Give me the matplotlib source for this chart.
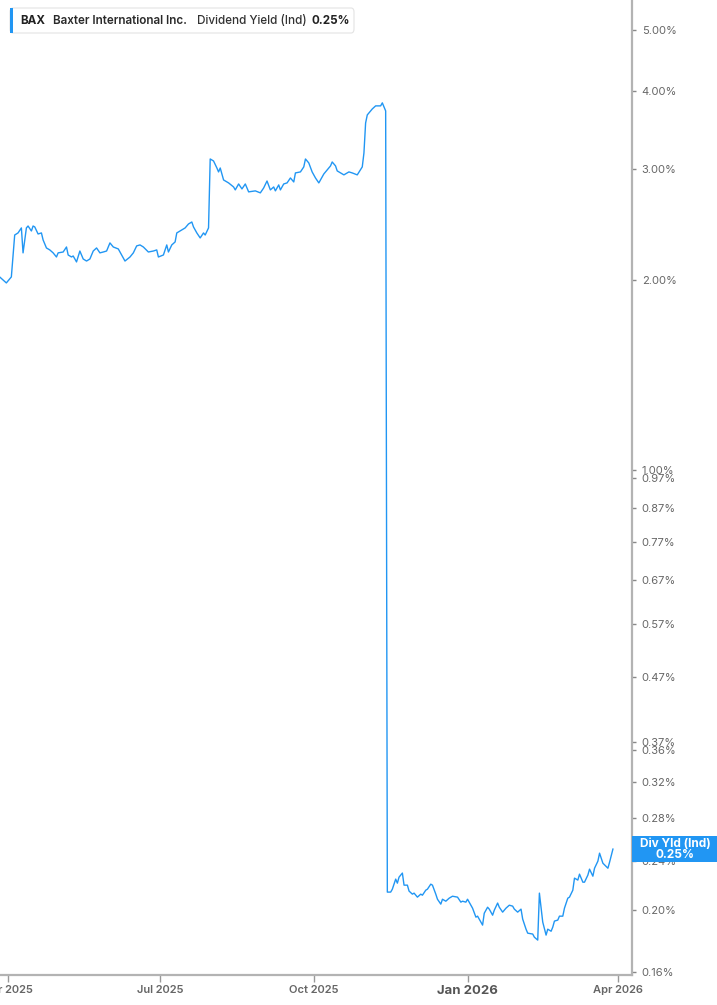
import matplotlib
matplotlib.use("Agg")
import matplotlib.pyplot as plt
import matplotlib.transforms as mtransforms
from matplotlib.patches import Rectangle, FancyBboxPatch
from matplotlib.ticker import FixedLocator, NullLocator
import pandas as pd

plt.rcParams["font.family"] = ["Inter", "DejaVu Sans"]

# ---- data ----
dates = [
    "2025-03-27", "2025-03-31", "2025-04-03", "2025-04-05", "2025-04-07", "2025-04-09",
    "2025-04-10", "2025-04-12", "2025-04-13", "2025-04-15", "2025-04-16", "2025-04-17",
    "2025-04-19", "2025-04-21", "2025-04-22", "2025-04-24", "2025-04-26", "2025-04-28",
    "2025-04-30", "2025-05-01", "2025-05-04", "2025-05-06", "2025-05-07", "2025-05-09",
    "2025-05-10", "2025-05-12", "2025-05-14", "2025-05-16", "2025-05-18", "2025-05-20",
    "2025-05-22", "2025-05-24", "2025-05-26", "2025-05-28", "2025-05-30", "2025-06-01",
    "2025-06-03", "2025-06-06", "2025-06-08", "2025-06-10", "2025-06-13", "2025-06-15",
    "2025-06-17", "2025-06-19", "2025-06-21", "2025-06-24", "2025-06-27", "2025-06-29",
    "2025-06-30", "2025-07-03", "2025-07-05", "2025-07-06", "2025-07-08", "2025-07-10",
    "2025-07-11", "2025-07-14", "2025-07-16", "2025-07-18", "2025-07-20", "2025-07-21",
    "2025-07-23", "2025-07-25", "2025-07-27", "2025-07-28", "2025-07-30", "2025-07-31",
    "2025-08-02", "2025-08-04", "2025-08-05", "2025-08-06", "2025-08-08", "2025-08-10",
    "2025-08-11", "2025-08-14", "2025-08-15", "2025-08-17", "2025-08-19", "2025-08-21",
    "2025-08-23", "2025-08-27", "2025-08-30", "2025-09-01", "2025-09-03", "2025-09-05",
    "2025-09-07", "2025-09-08", "2025-09-10", "2025-09-11", "2025-09-13", "2025-09-15",
    "2025-09-17", "2025-09-19", "2025-09-20", "2025-09-23", "2025-09-25", "2025-09-26",
    "2025-09-28", "2025-09-30", "2025-10-02", "2025-10-04", "2025-10-07", "2025-10-09",
    "2025-10-11", "2025-10-12", "2025-10-14", "2025-10-15", "2025-10-17", "2025-10-19",
    "2025-10-22", "2025-10-24", "2025-10-27", "2025-10-30", "2025-10-31", "2025-11-01",
    "2025-11-02", "2025-11-05", "2025-11-07", "2025-11-10", "2025-11-11", "2025-11-13",
    "2025-11-14", "2025-11-16", "2025-11-17", "2025-11-19", "2025-11-20", "2025-11-21",
    "2025-11-23", "2025-11-24", "2025-11-26", "2025-11-27", "2025-11-29", "2025-11-30",
    "2025-12-02", "2025-12-04", "2025-12-05", "2025-12-07", "2025-12-08", "2025-12-10",
    "2025-12-11", "2025-12-13", "2025-12-14", "2025-12-16", "2025-12-17", "2025-12-19",
    "2025-12-21", "2025-12-23", "2025-12-26", "2025-12-28", "2025-12-29", "2025-12-31",
    "2026-01-01", "2026-01-04", "2026-01-06", "2026-01-07", "2026-01-08", "2026-01-10",
    "2026-01-11", "2026-01-13", "2026-01-14", "2026-01-16", "2026-01-17", "2026-01-19",
    "2026-01-20", "2026-01-22", "2026-01-24", "2026-01-26", "2026-01-28", "2026-01-29",
    "2026-01-31", "2026-02-02", "2026-02-03", "2026-02-05", "2026-02-06", "2026-02-09",
    "2026-02-10", "2026-02-12", "2026-02-13", "2026-02-14", "2026-02-15", "2026-02-17",
    "2026-02-18", "2026-02-20", "2026-02-21", "2026-02-22", "2026-02-24", "2026-02-25",
    "2026-02-27", "2026-02-28", "2026-03-02", "2026-03-03", "2026-03-05", "2026-03-06",
    "2026-03-08", "2026-03-09", "2026-03-11", "2026-03-12", "2026-03-14", "2026-03-15",
    "2026-03-17", "2026-03-18", "2026-03-20", "2026-03-21", "2026-03-23", "2026-03-26",
    "2026-03-27", "2026-03-29",
]
div_yield = [
    2.025, 1.981, 2.025, 2.360, 2.378, 2.422,
    2.211, 2.422, 2.439, 2.395, 2.439, 2.431,
    2.369, 2.378, 2.318, 2.251, 2.235, 2.211,
    2.178, 2.211, 2.218, 2.259, 2.194, 2.178,
    2.186, 2.139, 2.226, 2.162, 2.146, 2.162,
    2.226, 2.251, 2.211, 2.218, 2.226, 2.293,
    2.259, 2.243, 2.194, 2.146, 2.178, 2.211,
    2.268, 2.276, 2.259, 2.218, 2.226, 2.235,
    2.178, 2.194, 2.276, 2.218, 2.276, 2.301,
    2.378, 2.404, 2.422, 2.457, 2.475, 2.431,
    2.378, 2.335, 2.378, 2.360, 2.422, 3.116,
    3.093, 3.015, 2.972, 3.015, 2.886, 2.865,
    2.855, 2.813, 2.783, 2.844, 2.793, 2.844,
    2.763, 2.773, 2.753, 2.803, 2.875, 2.783,
    2.813, 2.773, 2.834, 2.783, 2.844, 2.855,
    2.907, 2.865, 2.961, 2.972, 3.027, 3.116,
    3.071, 2.972, 2.907, 2.855, 2.950, 2.994,
    3.038, 3.082, 3.038, 2.983, 2.961, 2.940,
    2.972, 2.961, 2.940, 3.027, 3.185, 3.554,
    3.660, 3.741, 3.783, 3.783, 3.825, 3.714,
    0.2139, 0.2139, 0.2162, 0.2243, 0.2210, 0.2259,
    0.2293, 0.2194, 0.2194, 0.2147, 0.2123, 0.2131,
    0.2100, 0.2123, 0.2115, 0.2154, 0.2162, 0.2202,
    0.2194, 0.2123, 0.2084, 0.2047, 0.2084, 0.2069,
    0.2092, 0.2107, 0.2100, 0.2062, 0.2069, 0.2062,
    0.2084, 0.2017, 0.1952, 0.1959, 0.1938, 0.1896,
    0.1980, 0.2024, 0.2010, 0.1966, 0.2002, 0.2055,
    0.2024, 0.1988, 0.2017, 0.2039, 0.2032, 0.2010,
    0.1988, 0.2010, 0.1938, 0.1868, 0.1841, 0.1835,
    0.1814, 0.1795, 0.2131, 0.2024, 0.1917, 0.1828,
    0.1868, 0.1854, 0.1882, 0.1924, 0.1931, 0.1959,
    0.1959, 0.2017, 0.2092, 0.2100, 0.2154, 0.2251,
    0.2235, 0.2284, 0.2218, 0.2218, 0.2276, 0.2326,
    0.2267, 0.2334, 0.2395, 0.2466, 0.2377, 0.2334,
    0.2386, 0.2503,
]

y_ticks = [5.00, 4.00, 3.00, 2.00, 1.00, 0.97, 0.87, 0.77, 0.67, 0.57,
           0.47, 0.37, 0.36, 0.32, 0.28, 0.24, 0.20, 0.16]
x_tick_dates = ["2025-04-01", "2025-07-01", "2025-10-01", "2026-01-01", "2026-04-01"]
x_tick_labels = ["Apr 2025", "Jul 2025", "Oct 2025", "Jan 2026", "Apr 2026"]

ticker_sym = "BAX"
company = "Baxter International Inc."
metric = "Dividend Yield (Ind)"
last_label = "Div Yld (Ind)"

BLUE = "#2196F3"
AXIS_GRAY = "#B3B3B3"
TEXT_GRAY = "#666666"

W, H = 717, 1005
fig = plt.figure(figsize=(W / 100, H / 100), dpi=100)
ax = fig.add_axes([0, 30 / H, 632 / W, 975 / H])

x = pd.to_datetime(dates)
ax.plot(x, div_yield, color=BLUE, lw=1.0, solid_joinstyle="round")

ax.set_yscale("log")
ax.set_ylim(0.158, 5.57)
ax.set_xlim(pd.Timestamp("2025-03-27 05:00"), pd.Timestamp("2026-04-09 10:00"))

# y axis on the right
ax.yaxis.tick_right()
ax.yaxis.set_major_locator(FixedLocator(y_ticks))
ax.yaxis.set_minor_locator(NullLocator())
ax.set_yticklabels([f"{t:.2f}%" for t in y_ticks])
ax.tick_params(axis="y", which="major", direction="out", length=3, width=1,
               color="#888888", labelsize=8, labelcolor=TEXT_GRAY, pad=4)

# x axis
ax.set_xticks(pd.to_datetime(x_tick_dates))
ax.set_xticklabels(x_tick_labels)
ax.tick_params(axis="x", direction="out", length=5, width=1, color="#999999",
               labelsize=8, labelcolor=TEXT_GRAY, pad=2)
for lbl in ax.get_xticklabels():
    if lbl.get_text().startswith("Jan"):
        lbl.set_fontsize(9.5)
        lbl.set_fontweight("bold")
        lbl.set_color("#555555")
    else:
        lbl.set_fontweight("semibold")

for side in ["left", "top"]:
    ax.spines[side].set_visible(False)
for side in ["right", "bottom"]:
    ax.spines[side].set_color(AXIS_GRAY)
    ax.spines[side].set_linewidth(1.6)

# last value flag on the right axis
last_val = div_yield[-1]
blend = mtransforms.blended_transform_factory(ax.transAxes, ax.transData)
box_h = 1.048
ax.add_patch(Rectangle((1.0, last_val / box_h), 0.14, last_val * box_h - last_val / box_h,
                       transform=blend, facecolor=BLUE, edgecolor="none",
                       clip_on=False, zorder=10))
ax.text(1.068, last_val, f"{last_label}\n{last_val:.2f}%", transform=blend,
        ha="center", va="center", color="white", fontsize=8.5, fontweight="bold",
        linespacing=0.9, clip_on=False, zorder=11)

# legend box top-left
leg = FancyBboxPatch((10 / W, 1 - 33 / H), 344 / W, 25 / H,
                     boxstyle="round,pad=0,rounding_size=0.004",
                     transform=fig.transFigure, facecolor="white",
                     edgecolor="#E3E3E3", lw=0.8, zorder=1)
fig.patches.append(leg)
fig.patches.append(Rectangle((10 / W, 1 - 33 / H), 3 / W, 25 / H,
                             transform=fig.transFigure, facecolor=BLUE,
                             edgecolor="none", zorder=2))
ty = 1 - 20.5 / H
fs = 8.4
fig.text(20 / W, ty, ticker_sym, fontsize=fs, fontweight="bold", color="#222222",
         va="center", zorder=5)
fig.text(53 / W, ty, company, fontsize=fs, fontweight="semibold", color="#2A2A2A",
         va="center", zorder=5)
fig.text(197 / W, ty, metric, fontsize=fs, fontweight="medium", color="#333333",
         va="center", zorder=5)
fig.text(312 / W, ty, f"{last_val:.2f}%", fontsize=fs, fontweight="bold", color="#222222",
         va="center", zorder=5)

fig.savefig("out.png", dpi=100)
